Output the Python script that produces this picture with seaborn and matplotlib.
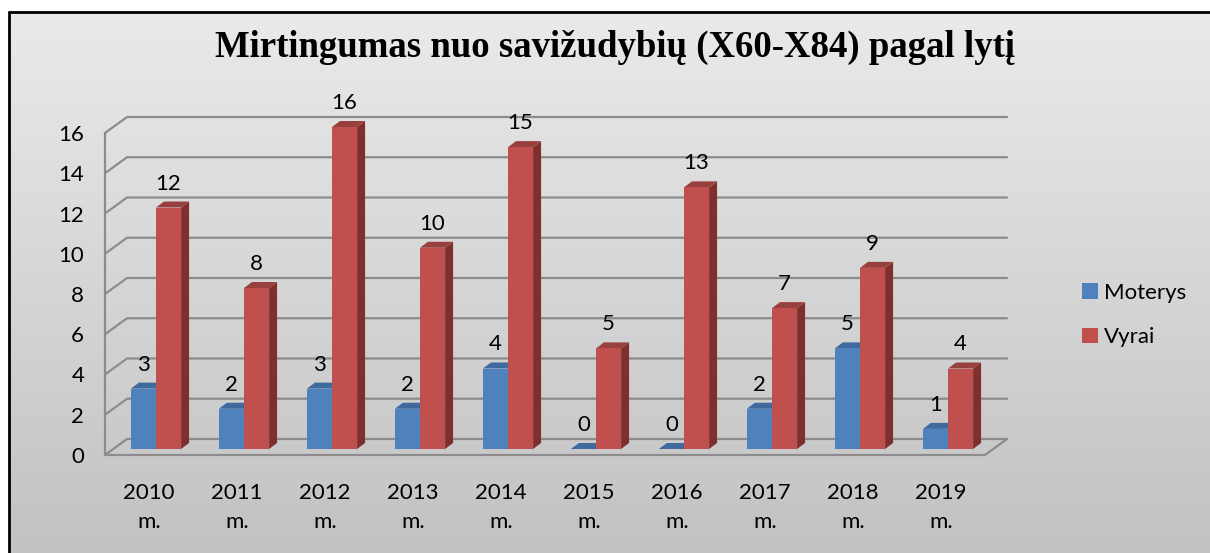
import numpy as np
import pandas as pd
import matplotlib
matplotlib.use('Agg')
import matplotlib.pyplot as plt
import matplotlib.transforms as mtransforms
from matplotlib.patches import Polygon, Patch
from matplotlib.lines import Line2D
import seaborn as sns

# data
years = ['2010\nm.', '2011\nm.', '2012\nm.', '2013\nm.', '2014\nm.',
         '2015\nm.', '2016\nm.', '2017\nm.', '2018\nm.', '2019\nm.']
moterys = [3, 2, 3, 2, 4, 0, 0, 2, 5, 1]
vyrai = [12, 8, 16, 10, 15, 5, 13, 7, 9, 4]
series_names = ['Moterys', 'Vyrai']
colors = ['#4F81BD', '#C0504D']
side_colors = ['#385D8A', '#7F302E']
top_colors = ['#3F6A9E', '#98403D']
yticks = list(range(0, 17, 2))

df = pd.DataFrame({
    'Metai': years * 2,
    'Lytis': ['Moterys'] * len(years) + ['Vyrai'] * len(years),
    'Skaicius': moterys + vyrai,
})

sns.set_style('white')
plt.rcParams['font.family'] = ['Lato', 'DejaVu Sans']
plt.rcParams['text.color'] = 'black'
FS = 16

W, H = 1210, 553
fig = plt.figure(figsize=(W / 100, H / 100), dpi=100, facecolor='white')

# gradient background with frame
bg = fig.add_axes([9 / W, 0, 1 - 9 / W, 1 - 12 / H], zorder=-10)
grad = np.linspace(0, 1, 256).reshape(-1, 1)
bg.imshow(grad, aspect='auto', cmap=matplotlib.colors.LinearSegmentedColormap.from_list(
    'bg', ['#EAEAEA', '#C2C2C2']), extent=[0, 1, 0, 1], origin='upper')
bg.set_axis_off()
fig.add_artist(Line2D([9 / W, 1], [1 - 12 / H, 1 - 12 / H], color='black', lw=2))
fig.add_artist(Line2D([9 / W, 9 / W], [0, 1 - 12 / H], color='black', lw=2))

# front face of the plot area
x_left, x_right, y_bot, y_top = 105, 985, 455, 133
ax = fig.add_axes([x_left / W, 1 - y_bot / H, (x_right - x_left) / W, (y_bot - y_top) / H])
ax.patch.set_alpha(0)

sns.barplot(data=df, x='Metai', y='Skaicius', hue='Lytis', hue_order=series_names,
            palette=colors, width=0.57, saturation=1, legend=False, ax=ax,
            edgecolor='none', linewidth=0)

ax.set_xlim(-0.5, len(years) - 0.5)
ax.set_ylim(0, 16)
ax.set_yticks(yticks)
ax.set_xlabel('')
ax.set_ylabel('')
for s in ax.spines.values():
    s.set_visible(False)
ax.tick_params(axis='both', length=0, labelsize=FS, colors='black')
ax.tick_params(axis='y', pad=15)
ax.tick_params(axis='x', pad=20)
for lab in ax.get_xticklabels():
    lab.set_linespacing(1.55)

# pseudo 3D geometry in pixels
depth = (22, 16)          # depth of the back wall
shift = (7, 6)            # bars sit a little behind the front edge
bdepth = (8, 6)           # depth of a bar box
grid_col = '#8C8C8C'
T = ax.transData
ident = mtransforms.IdentityTransform()

def gline(pts, **kw):
    pts = np.array(pts)
    ax.add_line(Line2D(pts[:, 0], pts[:, 1], transform=ident, clip_on=False,
                       color=grid_col, lw=1.6, zorder=0.5, **kw))

x0, x1 = ax.get_xlim()
for v in yticks:
    a = T.transform((x0, v))
    b = T.transform((x1, v))
    gline([a, a + depth, b + depth])
a0 = T.transform((x0, 0))
b0 = T.transform((x1, 0))
gline([a0, b0, b0 + depth])
gline([a0, T.transform((x0, 16))])

off = mtransforms.ScaledTranslation(shift[0] / 100, shift[1] / 100, fig.dpi_scale_trans)
toff = mtransforms.ScaledTranslation(shift[0] / 100, (shift[1] + 18) / 100, fig.dpi_scale_trans)
for i, cont in enumerate(ax.containers):
    for bar, val in zip(cont.patches, [moterys, vyrai][i]):
        bar.set_transform(T + off)
        bar.set_clip_on(False)
        bar.set_zorder(2 + i)
        bx, bw, bh = bar.get_x(), bar.get_width(), bar.get_height()
        R0 = T.transform((bx + bw, 0)) + shift
        L1 = T.transform((bx, bh)) + shift
        R1 = T.transform((bx + bw, bh)) + shift
        ax.add_patch(Polygon([R0, R1, R1 + bdepth, R0 + bdepth], closed=True,
                             transform=ident, clip_on=False, facecolor=side_colors[i],
                             edgecolor='none', zorder=1.9 + i))
        ax.add_patch(Polygon([L1, R1, R1 + bdepth, L1 + bdepth], closed=True,
                             transform=ident, clip_on=False, facecolor=top_colors[i],
                             edgecolor='none', zorder=1.9 + i))
        ax.text(bx + bw / 2, bh, str(val), transform=T + toff, ha='center',
                va='baseline', fontsize=FS, zorder=5, clip_on=False, color='black')

fig.text(0.508, 1 - 47 / H, 'Mirtingumas nuo savižudybių (X60-X84) pagal lytį',
         ha='center', va='center', fontsize=26.5, fontweight='bold', color='black',
         family=['Liberation Serif', 'DejaVu Serif'])

handles = [Patch(facecolor=c, edgecolor='none') for c in colors]
fig.legend(handles, series_names, loc='upper left', bbox_to_anchor=(1082 / W, 1 - 283 / H),
           frameon=False, fontsize=FS, handlelength=0.7, handleheight=0.7,
           handletextpad=0.3, labelspacing=1.1, borderpad=0, borderaxespad=0,
           labelcolor='black')

fig.savefig('out.png', dpi=100)
